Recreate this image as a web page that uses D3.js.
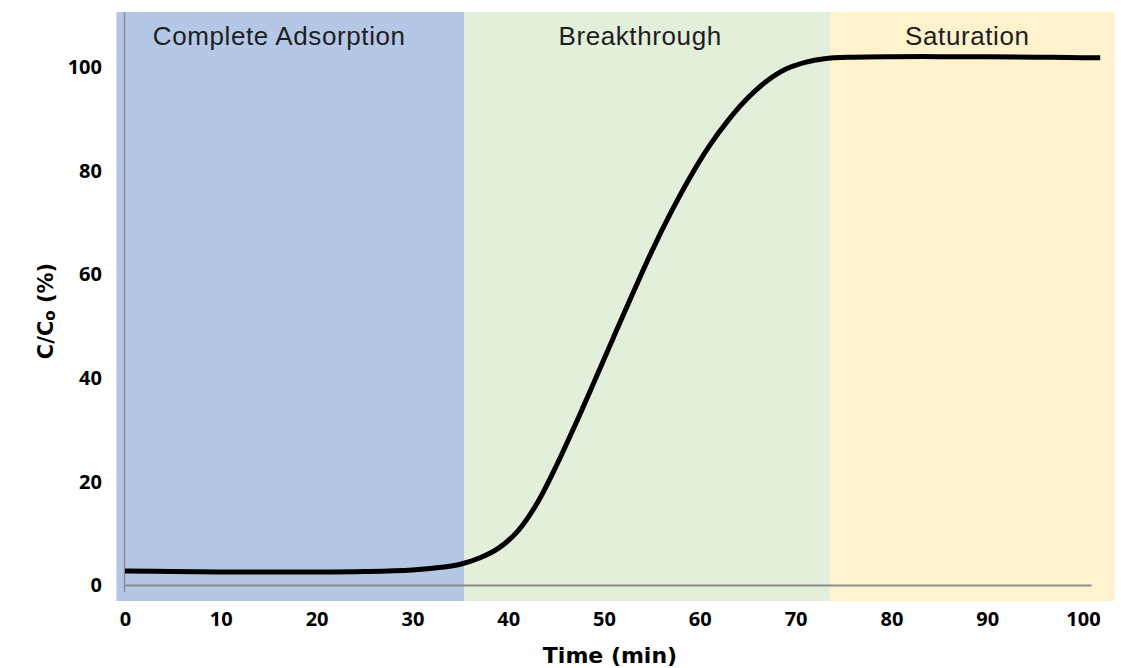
<!DOCTYPE html>
<html><head><meta charset="utf-8">
<script src="https://cdn.jsdelivr.net/npm/d3@7"></script>
<style>
html,body{margin:0;padding:0;background:#fff;}
svg{display:block;}
</style></head>
<body>
<svg id="chart" width="1121" height="668"></svg>
<script>
// ---- data ----
const times  = [0, 5, 10, 15, 20, 25, 30, 33, 35, 37, 39, 41, 43, 45, 47, 49, 51, 53, 55, 57, 59, 61, 63, 65, 67, 69, 71, 73, 76, 80, 85, 90, 95, 100, 101.8];
const values = [2.8, 2.7, 2.6, 2.6, 2.6, 2.7, 3.0, 3.5, 4.1, 5.3, 7.2, 10.5, 15.8, 23.0, 31.0, 39.4, 47.9, 56.3, 64.5, 72.0, 78.8, 84.8, 89.8, 94.0, 97.3, 99.6, 100.9, 101.6, 101.9, 102.0, 102.0, 102.0, 101.9, 101.8, 101.8];
const phaseNames  = ["Complete Adsorption", "Breakthrough", "Saturation"];
const phaseStarts = [-0.9, 35.4, 73.6];
const phaseEnds   = [35.4, 73.6, 103.3];
const phaseColors = ["#b4c7e7", "#e2efda", "#fff2cc"];
const xTicks = [0, 10, 20, 30, 40, 50, 60, 70, 80, 90, 100];
const yTicks = [0, 20, 40, 60, 80, 100];
const xTitle = "Time (min)";

// ---- layout ----
const svg = d3.select("#chart");
const x = d3.scaleLinear().domain([0, 100]).range([125, 1083]);
const y = d3.scaleLinear().domain([0, 100]).range([585.5, 67]);
const bandTop = 12, bandBottom = 601;
const labelShift = [-11, -7, -5];

// phase bands
const bands = svg.append("g");
phaseNames.forEach((name, i) => {
  bands.append("rect")
    .attr("x", x(phaseStarts[i]))
    .attr("y", bandTop)
    .attr("width", x(phaseEnds[i]) - x(phaseStarts[i]))
    .attr("height", bandBottom - bandTop)
    .attr("fill", phaseColors[i]);
});
phaseNames.forEach((name, i) => {
  bands.append("text")
    .attr("x", (x(phaseStarts[i]) + x(phaseEnds[i])) / 2 + labelShift[i])
    .attr("y", 45)
    .attr("text-anchor", "middle")
    .attr("font-family", "'Liberation Sans', Arial, sans-serif")
    .attr("font-size", 26)
    .attr("letter-spacing", 0.6)
    .attr("fill", "#1e1e1e")
    .text(name);
});

// axis lines
svg.append("line")
  .attr("x1", x(0) - 0.5).attr("x2", x(0) - 0.5)
  .attr("y1", bandTop).attr("y2", 592)
  .attr("stroke", "#8c8c8c").attr("stroke-width", 1.5);
svg.append("line")
  .attr("x1", x(0) - 1).attr("x2", x(100.9))
  .attr("y1", y(0)).attr("y2", y(0))
  .attr("stroke", "#8c8c8c").attr("stroke-width", 2);

// x axis labels
const tickFont = "'Noto Sans', sans-serif";
const titleFont = "'DejaVu Sans', sans-serif";
const xAxis = svg.append("g")
  .attr("transform", `translate(0,${y(0)})`)
  .call(d3.axisBottom(x).tickValues(xTicks).tickSize(0).tickPadding(26).tickFormat(d3.format("d")));
xAxis.select(".domain").remove();
xAxis.selectAll("text")
  .attr("font-family", tickFont).attr("font-weight", "bold")
  .attr("font-size", 20).attr("fill", "#000");

// y axis labels
const yAxis = svg.append("g")
  .attr("transform", `translate(124,0)`)
  .call(d3.axisLeft(y).tickValues(yTicks).tickSize(0).tickPadding(22).tickFormat(d3.format("d")));
yAxis.select(".domain").remove();
yAxis.selectAll("text")
  .attr("font-family", tickFont).attr("font-weight", "bold")
  .attr("font-size", 20).attr("fill", "#000");

// titles
svg.append("text")
  .attr("x", 610).attr("y", 663)
  .attr("text-anchor", "middle")
  .attr("font-family", titleFont).attr("font-weight", "bold")
  .attr("font-size", 22).attr("fill", "#000")
  .text(xTitle);

const yt = svg.append("text")
  .attr("transform", "translate(53,311) rotate(-90)")
  .attr("text-anchor", "middle")
  .attr("font-family", titleFont).attr("font-weight", "bold")
  .attr("font-size", 21).attr("fill", "#000");
yt.append("tspan").text("C/C");
yt.append("tspan").text("o").attr("font-size", 15).attr("dy", 2);
yt.append("tspan").text(" (%)").attr("dy", -2);

// curve
const pts = times.map((t, i) => [t, values[i]]);
svg.append("path")
  .datum(pts)
  .attr("fill", "none")
  .attr("stroke", "#000")
  .attr("stroke-width", 5)
  .attr("stroke-linecap", "butt")
  .attr("d", d3.line().x(d => x(d[0])).y(d => y(d[1])).curve(d3.curveCatmullRom.alpha(0.5)));
</script>
</body></html>
